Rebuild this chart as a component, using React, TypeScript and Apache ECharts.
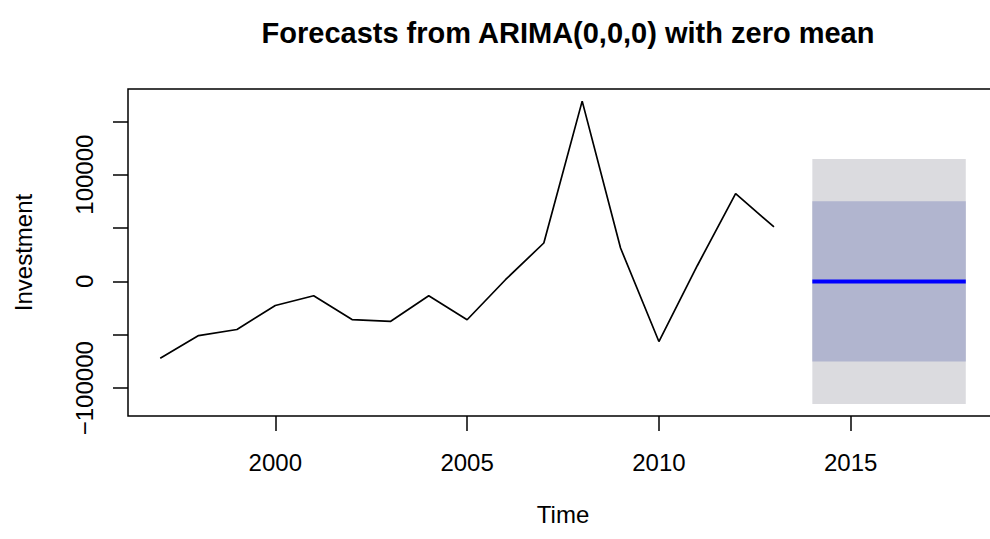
import React, { useEffect, useRef } from "react";
import * as echarts from "echarts";

// Historical series (Investment)
const years = [1997, 1998, 1999, 2000, 2001, 2002, 2003, 2004, 2005, 2006, 2007, 2008, 2009, 2010, 2011, 2012, 2013];
const investment = [-71900, -50700, -45000, -22500, -13400, -35700, -37500, -13400, -35900, 1600, 36000, 168900, 31300, -56300, 14700, 82300, 51000];

// Forecasts
const forecastYears = [2014, 2015, 2016, 2017, 2018];
const forecastMean = [0, 0, 0, 0, 0];
const lower80 = [-75000, -75000, -75000, -75000, -75000];
const upper80 = [75000, 75000, 75000, 75000, 75000];
const lower95 = [-114700, -114700, -114700, -114700, -114700];
const upper95 = [114700, 114700, 114700, 114700, 114700];

// Axis ticks / labels
const xTickValues = [2000, 2005, 2010, 2015];
const yTickValues = [-100000, -50000, 0, 50000, 100000, 150000];
const yLabelValues = [-100000, 0, 100000];

const FONT = "'Liberation Sans', Arial, Helvetica, sans-serif";

export default function App() {
  const ref = useRef<HTMLDivElement>(null);

  useEffect(() => {
    if (!ref.current) return;
    const chart = echarts.init(ref.current, undefined, { renderer: "svg" });

    const xFirst = years[0];
    const xLast = forecastYears[forecastYears.length - 1];
    const xPad = (xLast - xFirst) * 0.04;
    const allY = [...investment, ...lower95, ...upper95];
    const yLo = Math.min(...allY);
    const yHi = Math.max(...allY);
    const yPad = (yHi - yLo) * 0.04;

    const n = forecastYears.length - 1;

    chart.setOption({
      animation: false,
      backgroundColor: "#ffffff",
      textStyle: { fontFamily: FONT, color: "#000" },
      title: {
        text: "Forecasts from ARIMA(0,0,0) with zero mean",
        left: 563,
        textAlign: "center",
        top: 13,
        textStyle: { fontFamily: FONT, fontWeight: "bold", fontSize: 29, color: "#000" },
      },
      grid: {
        left: 128,
        top: 89,
        width: 870,
        height: 327,
        show: true,
        borderColor: "#000",
        borderWidth: 1.5,
        backgroundColor: "transparent",
        outerBoundsMode: "none",
      },
      xAxis: {
        type: "value",
        min: xFirst - xPad,
        max: xLast + xPad,
        name: "Time",
        nameLocation: "middle",
        nameGap: 86,
        nameTextStyle: { fontFamily: FONT, fontSize: 24, color: "#000" },
        axisLine: { show: false, onZero: false },
        splitLine: { show: false },
        axisTick: {
          show: true,
          length: 15,
          customValues: xTickValues,
          lineStyle: { color: "#000", width: 1.5 },
        },
        axisLabel: {
          show: true,
          customValues: xTickValues,
          margin: 34,
          fontFamily: FONT,
          fontSize: 24,
          color: "#000",
          formatter: (v: number) => String(v),
        },
      },
      yAxis: {
        type: "value",
        min: yLo - yPad,
        max: yHi + yPad,
        name: "Investment",
        nameLocation: "middle",
        nameGap: 93,
        nameRotate: 90,
        nameTextStyle: { fontFamily: FONT, fontSize: 24, color: "#000" },
        axisLine: { show: false, onZero: false },
        splitLine: { show: false },
        axisTick: {
          show: true,
          length: 15,
          customValues: yTickValues,
          lineStyle: { color: "#000", width: 1.5 },
        },
        axisLabel: {
          show: true,
          customValues: yLabelValues,
          rotate: 90,
          margin: 32,
          fontFamily: FONT,
          fontSize: 24,
          color: "#000",
          formatter: (v: number) => (v < 0 ? "\u2212" + Math.abs(v) : String(v)),
        },
      },
      series: [
        {
          name: "Forecast",
          type: "line",
          data: forecastYears.map((y, i) => [y, forecastMean[i]]),
          showSymbol: false,
          symbol: "none",
          lineStyle: { color: "#0000ff", width: 4 },
          z: 3,
          markArea: {
            silent: true,
            z: 1,
            data: [
              [
                { coord: [forecastYears[0], lower95[0]], itemStyle: { color: "#dbdbdf", opacity: 1 } },
                { coord: [forecastYears[n], upper95[n]] },
              ],
              [
                { coord: [forecastYears[0], lower80[0]], itemStyle: { color: "#b1b5cf", opacity: 1 } },
                { coord: [forecastYears[n], upper80[n]] },
              ],
            ],
          },
        },
        {
          name: "Investment",
          type: "line",
          data: years.map((y, i) => [y, investment[i]]),
          showSymbol: false,
          symbol: "none",
          lineStyle: { color: "#000", width: 1.7 },
          z: 4,
        },
      ],
    });

    return () => chart.dispose();
  }, []);

  return (
    <div style={{ position: "absolute", left: 0, top: 0, width: 990, height: 539, overflow: "hidden" }}>
      <div ref={ref} style={{ width: 1010, height: 539 }} />
    </div>
  );
}
